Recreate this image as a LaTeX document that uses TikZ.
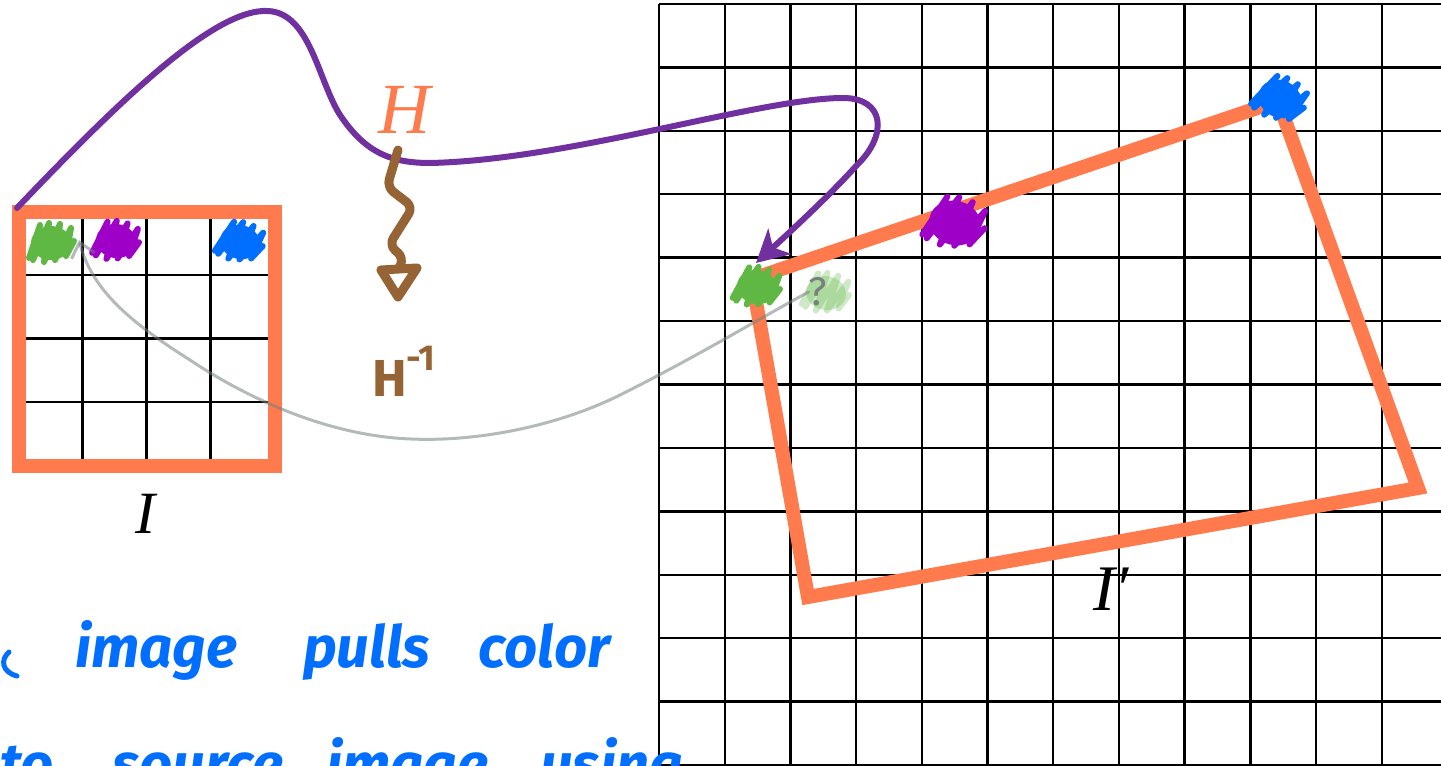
\documentclass[tikz,border=0pt]{standalone}
\usepackage{fontspec}
\setmainfont{Liberation Serif}
\newfontfamily\hand{Fira Sans}
\usetikzlibrary{arrows.meta}
\definecolor{ora}{RGB}{255,122,77}
\definecolor{pur}{RGB}{112,48,160}
\definecolor{brn}{RGB}{150,100,52}
\definecolor{grn}{RGB}{96,184,68}
\definecolor{vio}{RGB}{158,0,200}
\definecolor{blu}{RGB}{0,110,255}
\definecolor{gry}{RGB}{120,128,128}
\tikzset{
  gridline/.style={black, line width=2.4pt},
  frame/.style={ora, line width=14pt},
  quad/.style={ora, line width=14pt, line join=miter},
  mapcurve/.style={pur, line width=6pt, line cap=round},
  pullcurve/.style={gry, line width=3pt, opacity=0.55, line cap=round},
  invarrow/.style={brn, line width=9pt, line cap=round, line join=round, rounded corners=8pt},
  invhead/.style={brn, line width=9pt, line join=round},
  handtext/.style={blu, font=\hand\bfseries\itshape\fontsize{58}{60}\selectfont, inner sep=0pt},
  label/.style={font=\itshape\fontsize{60}{64}\selectfont, inner sep=0pt},
  scrib/.pic={
    \fill (0,0) ellipse (20pt and 17pt);
    \draw[line width=6pt, line cap=round, line join=round]
      (-22,15) -- (-11,-18) -- (-18,17) -- (-2,-20) -- (-7,19) -- (9,-19) -- (4,17) -- (20,-15) -- (15,13) -- (23,-2);
  }
}
\begin{document}
\begin{tikzpicture}[x=1pt,y=-1pt]
\useasboundingbox (0,0) rectangle (1441,766);
\clip (0,0) rectangle (1441,766);
\fill[white] (0,0) rectangle (1441,766);

% right grid (target image)
\foreach \k in {0,...,11} {
  \draw[gridline] ({659+65.7*\k},4) -- ({659+65.7*\k},766);
}
\foreach \k in {0,...,12} {
  \draw[gridline] (659,{4+63.42*\k}) -- (1441,{4+63.42*\k});
}

% left grid (source image)
\foreach \k in {1,2,3} {
  \draw[gridline] ({18.5+64*\k},211.5) -- ({18.5+64*\k},465.5);
  \draw[gridline] (18.5,{211.5+63.5*\k}) -- (274.5,{211.5+63.5*\k});
}
\draw[frame] (18.5,211.5) rectangle (274.5,465.5);
\coordinate (srcTL) at (17,208);

% warped quadrilateral
\coordinate (qTL) at (752,279);
\coordinate (qTR) at (1278,101);
\coordinate (qBR) at (1418,488);
\coordinate (qBL) at (808,597);
\draw[quad] (qTL) -- (qTR) -- (qBR) -- (qBL) -- cycle;

% scribbled pixels, source
\pic[grn] at (51,243) {scrib};
\pic[vio, rotate=-8] at (116,241) {scrib};
\pic[blu, rotate=-15] at (240,242) {scrib};
\coordinate (srcG) at (79,240);

% scribbled pixels, target
\pic[grn, rotate=-10] at (757,287) {scrib};
\pic[vio, rotate=-15, scale=1.3] at (955,223) {scrib};
\pic[blu, rotate=-25, scale=1.1] at (1280,99) {scrib};
\pic[grn, opacity=0.3, rotate=-10] at (826,293) {scrib};
\node[gry, font=\hand\fontsize{40}{40}\selectfont, inner sep=0pt] (q) at (818,292) {?};
\coordinate (dstG) at (756,263);

% H: forward mapping curve
\draw[mapcurve, -{Stealth[length=32pt,width=34pt,inset=9pt]}]
  (srcTL) .. controls (120,100) and (215,8) .. (268,11)
  .. controls (310,13) and (318,80) .. (340,115)
  .. controls (365,152) and (390,163) .. (430,163)
  .. controls (570,160) and (760,98) .. (843,98)
  .. controls (885,98) and (888,135) .. (857,165)
  .. controls (830,195) and (790,232) .. (dstG);
\node[ora, label, font=\itshape\fontsize{72}{76}\selectfont, anchor=base] (H) at (404,133) {H};

% H^{-1}: squiggle arrow with open triangular head
\coordinate (sqA) at (398,150);
\coordinate (sqB) at (399,268);
\draw[invarrow]
  (sqA) -- (387,187) -- (413,207) -- (389,245) -- (404,258) -- (sqB);
\draw[invhead] (381,270) -- (417,268) -- (398,297) -- cycle;
\node[brn, anchor=base west, inner sep=0pt] (Hinv) at (372,396)
  {\hand\bfseries\fontsize{52}{52}\selectfont H\raisebox{26pt}{\fontsize{36}{36}\selectfont -1}};

% backward pull curve
\draw[pullcurve, -{Straight Barb[length=14pt,width=24pt]}]
  (q.west) .. controls (760,318) and (700,355) .. (620,395)
  .. controls (560,425) and (480,442) .. (411,439)
  .. controls (330,436) and (250,400) .. (190,360)
  .. controls (130,322) and (92,290) .. (srcG);

% labels
\node[label, anchor=base] (I) at (145,533) {I};
\node[label, font=\itshape\fontsize{65}{68}\selectfont, anchor=base west] (Ip) at (1093,610) {I′};

% handwritten note
\draw[blu, line width=5pt, line cap=round] (9,652) .. controls (0,660) and (2,672) .. (17,676);
\node[handtext, anchor=base west] (w1) at (75,667) {image};
\node[handtext, anchor=base west] (w2) at (303,667) {pulls};
\node[handtext, anchor=base west] (w3) at (478,667) {color};
\node[handtext, anchor=base west] (w4) at (0,784) {to};
\node[handtext, anchor=base west] (w5) at (112,784) {source};
\node[handtext, anchor=base west] (w6) at (326,784) {image};
\node[handtext, anchor=base west] (w7) at (540,784) {using};
\end{tikzpicture}
\end{document}
